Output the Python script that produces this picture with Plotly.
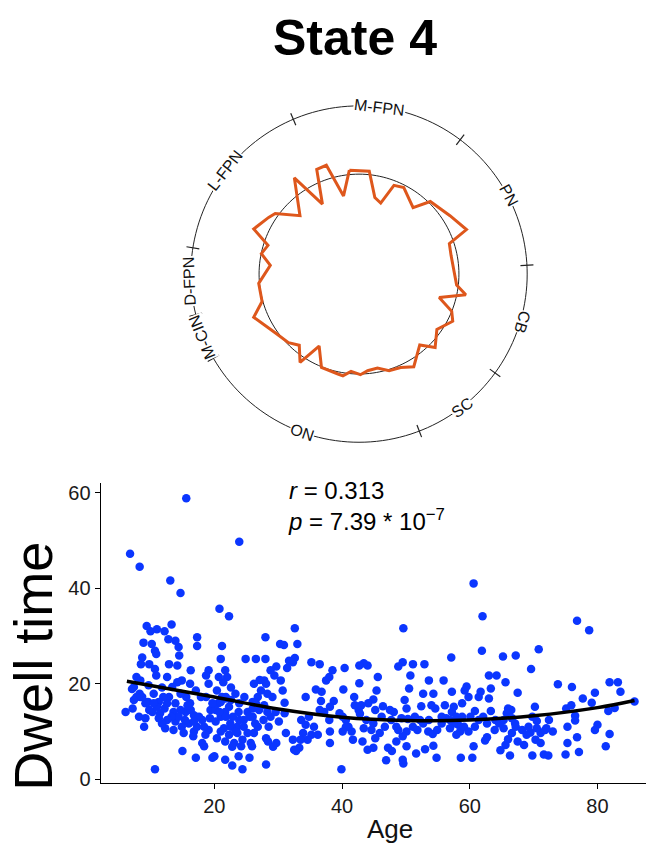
import math
import plotly.graph_objects as go

W, H = 646, 850
FONT = "Liberation Sans, Arial, Helvetica, sans-serif"

# ---------------- data: circular profile ----------------
profile_theta = [95.3, 84.3, 78.3, 73.0, 68.5, 62.6, 50.9, 45.5, 32.7, 22.5,
                 18.6, 11.5, -6.4, -11.0, -16.3, -21.9, -26.7, -35.4, -44.0, -49.4,
                 -59.4, -66.0, -72.7, -78.9, -84.9, -89.2, -94.7, -99.0, -101.9, -111.9,
                 -119.0, -123.7, -130.0, -135.8, -145.0, -157.7, -164.2, -174.7, -185.7, -191.8,
                 -197.5, -203.2, -212.1, -215.9, -224.7, -236.1, -242.4, -248.0, -253.3, -258.8]
profile_r = [1.044, 1.035, 0.782, 0.743, 0.954, 0.974, 0.858, 1.018, 1.082, 1.164,
             0.954, 0.940, 0.983, 1.089, 0.836, 1.000, 1.050, 0.956, 1.059, 0.934,
             1.077, 1.023, 1.013, 0.958, 0.971, 1.007, 0.977, 1.030, 1.022, 1.007,
             0.823, 1.063, 0.930, 0.985, 1.024, 1.139, 1.008, 1.008, 0.892, 0.998,
             0.955, 1.146, 1.067, 1.035, 0.831, 1.160, 0.790, 1.129, 1.137, 0.797]
reference_r = 1.0
ring_r = 1.683

networks = ["PN", "M-FPN", "L-FPN", "D-FPN", "M-CIN", "ON", "SC", "CB"]
net_start = [3, 53, 113, 171, 194, 210, 291, 324]
net_end = [53, 113, 171, 194, 210, 291, 324, 363]

# ---------------- data: scatter ----------------
age = [15.6, 6.8, 8.3, 23.9, 13.1, 14.7, 60.6, 20.8, 22.3, 62.0, 76.8, 78.7, 49.6, 32.6, 70.8, 61.9,
       10.7, 39.9, 24.4, 28.1, 22.8, 49.6, 85.8, 81.9, 83.2, 83.6, 73.8, 76.0, 77.7, 79.6, 79.1, 81.7,
       82.7, 80.0, 79.6, 81.9, 81.3, 75.1, 75.9, 76.5, 76.5, 75.3, 76.8, 75.3, 77.1, 75.0, 73.0, 72.0,
       71.6, 72.3, 69.8, 69.6, 70.2, 70.5, 69.5, 71.1, 70.3, 71.1, 68.5, 68.9, 67.5, 67.2, 67.5, 67.1,
       66.6, 66.5, 66.0, 65.2, 65.6, 65.8, 65.3, 66.0, 65.6, 64.8, 66.3, 64.2, 63.0, 63.3, 63.0, 63.3,
       63.9, 62.7, 62.4, 61.7, 61.4, 60.8, 60.1, 60.4, 60.6, 59.5, 59.2, 59.8, 58.8, 58.8, 58.2, 58.5,
       57.5, 57.9, 56.9, 57.2, 57.5, 57.1, 57.2, 58.6, 55.9, 56.1, 56.3, 55.6, 54.6, 54.8, 54.3, 54.0,
       53.6, 53.6, 53.5, 54.2, 54.3, 52.9, 52.7, 52.4, 52.2, 53.0, 52.7, 51.4, 51.6, 51.1, 50.7, 50.5,
       50.1, 50.3, 49.8, 49.5, 48.8, 49.3, 50.1, 49.5, 48.8, 48.5, 50.1, 49.5, 48.1, 47.5, 47.7, 47.8,
       47.2, 46.9, 46.7, 46.2, 46.4, 45.4, 44.9, 45.2, 44.9, 45.6, 45.2, 44.9, 44.0, 44.1, 43.8, 44.0,
       43.4, 42.7, 42.7, 43.0, 43.4, 43.2, 42.6, 42.8, 42.0, 41.9, 41.5, 41.7, 41.0, 40.6, 40.4, 40.2,
       40.1, 40.6, 40.1, 39.6, 38.5, 38.0, 38.7, 38.1, 38.0, 38.1, 38.1, 37.5, 36.8, 36.7, 37.2, 36.5,
       36.2, 36.5, 35.2, 35.9, 35.6, 35.2, 34.8, 34.6, 34.3, 34.3, 33.9, 33.6, 33.5, 33.3, 33.0, 32.6,
       32.3, 32.5, 32.8, 32.3, 31.7, 31.4, 30.9, 31.0, 31.0, 31.2, 30.4, 30.3, 30.7, 29.7, 29.4, 29.6,
       30.1, 29.7, 29.2, 28.8, 29.1, 28.8, 28.5, 28.0, 28.0, 27.8, 28.1, 28.3, 27.8, 28.3, 27.7, 28.1,
       28.4, 27.1, 27.3, 26.8, 27.0, 26.8, 26.5, 26.2, 26.0, 26.0, 26.4, 26.2, 25.7, 25.5, 25.9, 25.2,
       24.9, 24.7, 24.6, 24.4, 24.2, 23.9, 23.8, 23.6, 23.6, 23.8, 23.3, 23.1, 22.9, 22.6, 22.6, 22.3,
       22.5, 22.3, 22.8, 22.0, 21.8, 21.7, 21.7, 21.5, 21.7, 21.7, 21.4, 21.2, 21.0, 21.2, 21.0, 21.0,
       20.7, 20.6, 20.4, 20.4, 20.2, 20.0, 19.7, 19.4, 19.1, 19.1, 18.7, 19.1, 18.6, 18.4, 18.7, 18.1,
       17.9, 18.1, 17.3, 17.3, 17.1, 17.1, 16.8, 16.8, 16.7, 16.3, 16.2, 16.2, 16.0, 15.6, 15.5, 15.2,
       15.0, 14.9, 14.7, 14.7, 14.5, 14.4, 14.2, 14.2, 13.9, 13.9, 13.9, 13.6, 13.4, 13.3, 12.8, 12.9,
       12.6, 12.9, 12.6, 12.3, 12.2, 12.0, 11.8, 11.5, 11.3, 11.0, 10.7, 10.9, 10.7, 10.9, 10.5, 10.3,
       10.0, 10.2, 9.8, 9.7, 9.6, 9.4, 9.2, 9.0, 8.9, 8.7, 8.5, 8.4, 8.4, 8.2, 7.8, 7.4,
       7.2, 7.1, 6.1,
       20.2, 20.8, 21.8, 22.6, 23.3, 23.9, 24.6, 25.2, 25.5, 26.0, 26.5, 21.7, 21.0, 19.7, 19.3, 18.4,
       17.6, 17.3, 16.8, 16.3, 15.8, 15.4, 14.9, 14.4, 13.6, 13.3, 12.6, 12.2, 11.8, 11.3, 11.0, 10.5,
       9.8, 9.2, 8.7, 8.3, 7.8, 7.4,
       44.6, 45.9, 48.5, 51.1, 51.8, 54.9, 55.6, 56.9, 57.9, 59.1, 59.8, 60.8, 61.4, 62.1, 62.7, 64.0,
       64.6, 65.3, 66.6, 67.2, 68.2, 69.2, 69.8, 70.5, 71.8, 72.4]
dwell = [58.8, 47.2, 44.5, 49.7, 41.6, 39.0, 41.0, 35.7, 34.1, 34.1, 33.2, 31.2, 31.6, 31.6, 27.2, 26.9,
         2.1, 2.1, 2.1, 3.1, 2.9, 3.3, 16.3, 20.3, 20.3, 18.3, 19.9, 19.3, 16.9, 18.1, 16.0, 14.3,
         14.9, 11.4, 10.3, 9.5, 6.9, 14.8, 15.5, 13.3, 12.3, 11.0, 8.8, 7.6, 5.7, 5.2, 10.0, 10.7,
         5.2, 5.0, 5.0, 23.1, 15.2, 12.2, 9.8, 9.7, 8.3, 7.6, 7.2, 9.3, 7.9, 25.9, 18.1, 11.7,
         12.8, 14.5, 14.8, 25.7, 20.3, 13.8, 10.7, 8.4, 7.2, 6.1, 5.0, 21.7, 21.7, 19.0, 16.9, 14.3,
         10.3, 8.8, 8.1, 18.3, 17.2, 14.3, 13.1, 4.5, 6.9, 19.4, 18.6, 17.2, 15.9, 13.1, 11.4, 10.0,
         11.7, 9.3, 10.7, 14.1, 15.2, 25.5, 18.3, 4.5, 20.7, 15.5, 12.8, 11.7, 14.8, 4.5, 17.9, 15.5,
         20.7, 12.4, 10.0, 9.5, 7.0, 24.1, 17.9, 15.3, 12.4, 6.3, 11.7, 13.1, 5.4, 24.1, 21.7, 19.0,
         14.8, 12.6, 16.6, 24.5, 23.6, 12.8, 10.0, 9.0, 10.3, 7.9, 6.9, 4.1, 14.1, 14.5, 12.4, 5.9,
         6.6, 4.0, 11.0, 13.1, 15.3, 18.6, 16.7, 14.5, 11.7, 21.4, 8.6, 6.6, 6.2, 15.9, 12.4, 23.8,
         24.3, 23.8, 20.1, 15.5, 10.7, 7.9, 14.5, 13.7, 15.5, 17.2, 10.0, 8.3, 11.0, 12.4, 23.3, 18.8,
         13.1, 11.0, 10.0, 13.8, 22.8, 21.4, 16.4, 15.2, 12.4, 10.0, 7.6, 20.7, 18.3, 16.4, 14.1, 14.5,
         9.3, 24.1, 24.5, 18.8, 11.0, 9.3, 13.1, 8.3, 17.2, 11.4, 9.7, 12.4, 8.3, 6.6, 28.3, 25.4,
         24.5, 6.2, 5.9, 8.3, 24.8, 23.3, 28.1, 16.0, 13.8, 9.7, 20.7, 28.3, 18.6, 23.6, 21.7, 14.1,
         12.1, 7.6, 6.8, 22.8, 17.2, 13.1, 11.0, 29.7, 25.2, 20.7, 20.0, 17.9, 15.5, 14.1, 12.4, 8.6,
         7.9, 20.8, 18.6, 17.2, 14.5, 11.0, 25.2, 20.0, 16.2, 13.1, 11.7, 9.7, 7.6, 4.5, 6.9, 14.1,
         25.2, 17.2, 12.4, 8.3, 6.9, 15.9, 14.1, 11.0, 9.7, 4.8, 17.9, 7.6, 13.1, 19.2, 16.6, 15.2,
         11.7, 9.3, 6.8, 21.4, 17.2, 22.8, 14.1, 10.7, 7.9, 4.1, 20.3, 27.9, 25.2, 17.2, 13.1, 10.0,
         21.4, 15.9, 18.6, 8.6, 12.1, 4.8, 4.5, 14.5, 22.8, 20.0, 17.2, 10.3, 9.3, 6.9, 21.7, 12.4,
         17.2, 7.6, 29.7, 27.9, 18.6, 4.5, 13.4, 10.0, 9.0, 22.8, 20.0, 15.9, 11.7, 17.2, 14.1, 9.7,
         5.9, 20.7, 17.9, 14.5, 25.9, 27.7, 23.8, 20.3, 29.0, 15.9, 12.1, 14.1, 19.3, 32.4, 29.3, 24.1,
         21.4, 17.2, 15.9, 10.7, 31.0, 17.2, 19.2, 13.8, 16.2, 31.4, 26.9, 26.2, 23.1, 21.7, 17.9, 14.1,
         31.0, 28.3, 24.1, 19.7, 16.2, 32.1, 12.8, 11.0, 28.6, 25.5, 24.1, 20.7, 17.2, 13.1, 21.4, 19.3,
         14.8, 18.9, 14.1,
         14.5, 14.1, 13.1, 11.0, 10.0, 12.4, 11.0, 9.7, 13.1, 14.8, 15.9, 16.9, 16.2, 15.9, 12.8, 11.0,
         13.1, 11.0, 12.1, 14.5, 15.5, 12.4, 11.0, 13.1, 10.3, 13.1, 12.4, 14.8, 11.7, 12.8, 15.2, 15.9,
         14.5, 15.9, 17.2, 17.9, 17.2, 16.6,
         10.3, 9.7, 11.0, 11.0, 10.3, 10.3, 13.1, 12.4, 13.1, 11.0, 10.0, 11.0, 12.4, 13.1, 11.7, 12.4,
         11.7, 12.4, 9.7, 11.0, 10.3, 11.0, 13.1, 10.7, 10.3, 12.4]

fit_age = [6.3, 20, 30, 40, 50, 60, 70, 80, 85.8]
fit_dwell = [20.5, 17.2, 14.7, 13.0, 12.3, 12.4, 13.3, 15.0, 16.5]

stat_text = "<i>r</i> = 0.313<br><i>p</i> = 7.39 * 10<sup>\u22127</sup>"
x_ticks = [20, 40, 60, 80]
y_ticks = [0, 20, 40, 60]

# ---------------- layout geometry ----------------
CX, CY = 359.0, 276.0          # polar centre, px
PX_PER_R = 101.0               # px per radial unit
R_MAX = 1.8
pol_rad = R_MAX * PX_PER_R


def px(xp):
    return xp / W


def py(yp):
    return 1 - yp / H


fig = go.Figure()

circle_theta = [i * 2 for i in range(181)]
fig.add_trace(go.Scatterpolar(r=[ring_r] * len(circle_theta), theta=circle_theta, mode="lines",
                              line=dict(color="#222222", width=1), hoverinfo="skip"))
fig.add_trace(go.Scatterpolar(r=[reference_r] * len(circle_theta), theta=circle_theta, mode="lines",
                              line=dict(color="#222222", width=1), hoverinfo="skip"))
for b in net_start:
    fig.add_trace(go.Scatterpolar(r=[ring_r - 0.065, ring_r + 0.065], theta=[b, b], mode="lines",
                                  line=dict(color="#222222", width=1.2), hoverinfo="skip"))
fig.add_trace(go.Scatterpolar(r=profile_r + profile_r[:1], theta=profile_theta + profile_theta[:1],
                              mode="lines", line=dict(color="#DE571C", width=3)))

# scatter
fig.add_trace(go.Scatter(x=age, y=dwell, mode="markers", xaxis="x", yaxis="y",
                         marker=dict(color="#0B36FF", size=8.5, line=dict(width=0))))
fig.add_trace(go.Scatter(x=fit_age, y=fit_dwell, mode="lines", xaxis="x", yaxis="y",
                         line=dict(color="black", width=3.5, shape="spline")))

annotations = []
for name, s, e in zip(networks, net_start, net_end):
    mid = (s + e) / 2.0
    a = math.radians(mid)
    xl = CX + ring_r * PX_PER_R * math.cos(a)
    yl = CY - ring_r * PX_PER_R * math.sin(a)
    ang = 90 - mid
    ang = (ang + 180) % 360 - 180
    if abs(ang) > 120:
        ang = ang - 180 if ang > 0 else ang + 180
    annotations.append(dict(text=name, x=px(xl), y=py(yl), xref="paper", yref="paper",
                            xanchor="center", yanchor="middle", showarrow=False,
                            textangle=ang, bgcolor="white", borderpad=0,
                            font=dict(family=FONT, size=16, color="#111111")))

annotations.append(dict(text="State 4", x=px(355), y=py(37), xref="paper", yref="paper",
                        xanchor="center", yanchor="middle", showarrow=False,
                        font=dict(family=FONT, size=50, color="black", weight="bold")))
annotations.append(dict(text=stat_text, x=px(286), y=py(510), xref="paper", yref="paper",
                        xanchor="left", yanchor="middle", align="left", showarrow=False,
                        font=dict(family=FONT, size=24, color="black")))
annotations.append(dict(text="Dwell time", x=px(33), y=py(673), xref="paper", yref="paper",
                        xanchor="center", yanchor="middle", textangle=-90, showarrow=False,
                        font=dict(family=FONT, size=54, color="black")))
annotations.append(dict(text="Age", x=px(390), y=py(837), xref="paper", yref="paper",
                        xanchor="center", yanchor="middle", showarrow=False,
                        font=dict(family=FONT, size=26, color="#111111")))

fig.update_layout(
    width=W, height=H, margin=dict(l=0, r=0, t=0, b=0),
    paper_bgcolor="white", plot_bgcolor="white", showlegend=False,
    polar=dict(domain=dict(x=[px(CX - pol_rad), px(CX + pol_rad)],
                           y=[py(CY + pol_rad), py(CY - pol_rad)]),
               bgcolor="white",
               radialaxis=dict(visible=False, range=[0, R_MAX]),
               angularaxis=dict(visible=False, rotation=0, direction="counterclockwise")),
    xaxis=dict(domain=[px(100.7), 1.0], range=[2.2, 87.6], tickvals=x_ticks,
               showline=True, linecolor="black", linewidth=1.3, ticks="outside", ticklen=5,
               tickcolor="black", tickwidth=1.3, showgrid=False, zeroline=False,
               tickfont=dict(family=FONT, size=20, color="#1a1a1a"), anchor="y"),
    yaxis=dict(domain=[py(790), py(486.7)], range=[-0.7, 62.1], tickvals=y_ticks,
               showline=True, linecolor="black", linewidth=1.3, ticks="outside", ticklen=5,
               tickcolor="black", tickwidth=1.3, showgrid=False, zeroline=False,
               tickfont=dict(family=FONT, size=20, color="#1a1a1a"), anchor="x"),
    annotations=annotations,
)

fig.write_html("out.html")
